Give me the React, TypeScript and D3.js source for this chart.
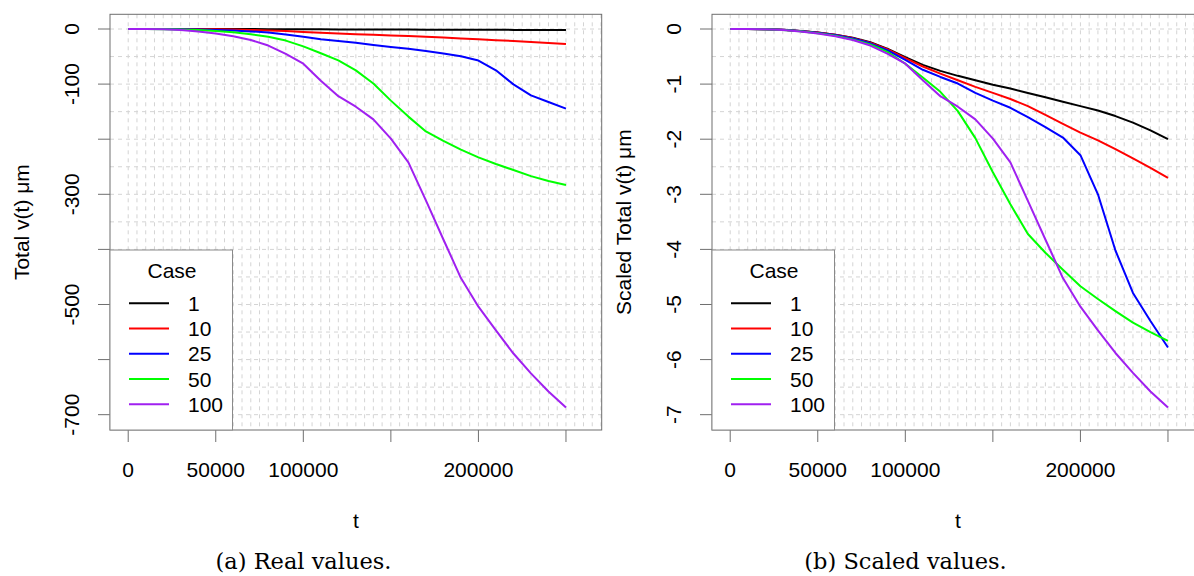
import React from 'react';
import * as d3 from 'd3';

const T = [0, 10000, 20000, 30000, 40000, 50000, 60000, 70000, 80000, 90000, 100000, 110000, 120000, 130000, 140000, 150000, 160000, 170000, 180000, 190000, 200000, 210000, 220000, 230000, 240000, 250000];
const CASES = ['1', '10', '25', '50', '100'];
const COLORS = ['#000000', '#FF0000', '#0000FF', '#00FF00', '#A020F0'];

// Real values (left panel)
const REAL_1 = [0, 0, -0.005, -0.015, -0.035, -0.065, -0.105, -0.16, -0.24, -0.36, -0.51, -0.65, -0.76, -0.85, -0.93, -1.01, -1.08, -1.16, -1.24, -1.32, -1.4, -1.48, -1.58, -1.7, -1.84, -2.0];
const REAL_10 = [0, 0, -0.05, -0.15, -0.35, -0.65, -1.05, -1.65, -2.5, -3.7, -5.3, -6.8, -8.1, -9.3, -10.5, -11.6, -12.7, -14, -15.6, -17.2, -18.8, -20.2, -21.8, -23.5, -25.2, -27];
const REAL_25 = [0, 0, -0.1, -0.4, -0.9, -1.8, -2.8, -4.3, -6.5, -9.8, -14, -18.5, -21.8, -24.8, -29, -32.5, -35.8, -40, -44.5, -49.3, -57.3, -75, -100.5, -120.5, -132.5, -144.5];
const REAL_50 = [0, 0, -0.25, -0.8, -2, -3.8, -6, -9.5, -14, -21, -31.5, -44, -57, -75, -99, -130, -159, -186, -203, -219, -233, -245, -256, -267, -276, -283];
const REAL_100 = [0, 0, -0.6, -1.8, -4.5, -8, -13, -20, -30, -45, -63, -94, -122, -141, -164, -199, -242, -311, -382, -452, -504, -547, -589, -625, -658, -687];

// Scaled values (right panel)
const SCALED_1 = [0, 0, -0.005, -0.015, -0.035, -0.065, -0.105, -0.16, -0.24, -0.36, -0.51, -0.65, -0.76, -0.85, -0.93, -1.01, -1.08, -1.16, -1.24, -1.32, -1.4, -1.48, -1.58, -1.7, -1.84, -2.0];
const SCALED_10 = [0, 0, -0.005, -0.015, -0.035, -0.065, -0.105, -0.165, -0.25, -0.37, -0.53, -0.68, -0.81, -0.93, -1.05, -1.16, -1.27, -1.4, -1.56, -1.72, -1.88, -2.02, -2.18, -2.35, -2.52, -2.7];
const SCALED_25 = [0, 0, -0.005, -0.015, -0.035, -0.07, -0.11, -0.17, -0.26, -0.39, -0.56, -0.74, -0.87, -0.99, -1.16, -1.3, -1.43, -1.6, -1.78, -1.97, -2.29, -3.0, -4.02, -4.79, -5.3, -5.78];
const SCALED_50 = [0, 0, -0.005, -0.016, -0.04, -0.075, -0.12, -0.19, -0.28, -0.42, -0.63, -0.88, -1.14, -1.49, -1.98, -2.6, -3.18, -3.72, -4.06, -4.37, -4.67, -4.9, -5.12, -5.33, -5.5, -5.66];
const SCALED_100 = [0, 0, -0.006, -0.018, -0.045, -0.08, -0.13, -0.2, -0.3, -0.45, -0.63, -0.93, -1.22, -1.41, -1.64, -1.99, -2.42, -3.12, -3.82, -4.52, -5.04, -5.47, -5.88, -6.24, -6.58, -6.87];

const X_TICKS = [0, 50000, 100000, 150000, 200000, 250000];
const X_TICK_LABELS = [0, 50000, 100000, 200000];
const REAL_Y_TICKS = [0, -100, -200, -300, -400, -500, -600, -700];
const REAL_Y_LABELS = [0, -100, -300, -500, -700];
const SCALED_Y_TICKS = [0, -1, -2, -3, -4, -5, -6, -7];
const SCALED_Y_LABELS = [0, -1, -2, -3, -4, -5, -6, -7];

const SANS = '"Liberation Sans", Arial, Helvetica, sans-serif';
const SERIF = '"DejaVu Serif", "Liberation Serif", serif';
const AXIS = '#6f6f6f';
const GRID = '#d4d4d4';

interface PanelProps {
  x0: number;
  series: number[][];
  yDomain: [number, number];
  yTicks: number[];
  yLabels: number[];
  gridStepY: number;
  yTitle: string;
  caption: string;
}

function Panel({ x0, series, yDomain, yTicks, yLabels, gridStepY, yTitle, caption }: PanelProps) {
  const top = 14.3;
  const bottom = 430;
  const width = 491.7;
  const x = d3.scaleLinear().domain([-10400, 270400]).range([x0, x0 + width]);
  const y = d3.scaleLinear().domain(yDomain).range([bottom, top]);
  const line = d3.line<number>().x((_, i) => x(T[i])).y((d) => y(d));

  const gridX = d3.range(0, 270400, 5000);
  const gridY = d3.range(0, yDomain[0], -gridStepY);

  const legX = x0;
  const legW = 122.5;
  const legTop = 250;
  const rowY = (i: number) => 303.3 + i * 25.25;

  return (
    <g>
      {gridX.map((g) => (
        <line key={'gx' + g} x1={x(g)} x2={x(g)} y1={top} y2={bottom} stroke={GRID} strokeWidth={1} strokeDasharray="4,4" />
      ))}
      {gridY.map((g) => (
        <line key={'gy' + g} x1={x0} x2={x0 + width} y1={y(g)} y2={y(g)} stroke={GRID} strokeWidth={1} strokeDasharray="4,4" />
      ))}
      {series.map((s, i) => (
        <path key={'s' + i} d={line(s) || ''} fill="none" stroke={COLORS[i]} strokeWidth={2} strokeLinejoin="round" />
      ))}
      <rect x={x0} y={top} width={width} height={bottom - top} fill="none" stroke={AXIS} strokeWidth={1} />
      {yTicks.map((t) => (
        <line key={'yt' + t} x1={x0 - 12} x2={x0} y1={y(t)} y2={y(t)} stroke={AXIS} strokeWidth={1} />
      ))}
      {yLabels.map((t) => (
        <text key={'yl' + t} transform={`translate(${x0 - 31},${y(t)}) rotate(-90)`} textAnchor="middle" fontFamily={SANS} fontSize={21} fill="#000">
          {String(t)}
        </text>
      ))}
      {X_TICKS.map((t) => (
        <line key={'xt' + t} x1={x(t)} x2={x(t)} y1={bottom} y2={bottom + 12} stroke={AXIS} strokeWidth={1} />
      ))}
      {X_TICK_LABELS.map((t) => (
        <text key={'xl' + t} x={x(t)} y={477} textAnchor="middle" fontFamily={SANS} fontSize={21} fill="#000">
          {String(t)}
        </text>
      ))}
      <text x={x0 + width / 2} y={528} textAnchor="middle" fontFamily={SANS} fontSize={21} fill="#000">t</text>
      <text transform={`translate(${x0 - 81},${(top + bottom) / 2}) rotate(-90)`} textAnchor="middle" fontFamily={SANS} fontSize={21} fill="#000">
        {yTitle}
      </text>
      <rect x={legX} y={legTop} width={legW} height={bottom - legTop} fill="#fff" stroke="#8a8a8a" strokeWidth={1} />
      <text x={legX + 62} y={277.5} textAnchor="middle" fontFamily={SANS} fontSize={21} fill="#000">Case</text>
      {CASES.map((c, i) => (
        <g key={'lg' + c}>
          <line x1={legX + 19} x2={legX + 59} y1={rowY(i)} y2={rowY(i)} stroke={COLORS[i]} strokeWidth={2} />
          <text x={legX + 78} y={rowY(i) + 7.5} fontFamily={SANS} fontSize={21} fill="#000">{c}</text>
        </g>
      ))}
      <text x={x0 + 193.5} y={569} textAnchor="middle" fontFamily={SERIF} fontSize={22.5} fill="#000">{caption}</text>
    </g>
  );
}

export default function App() {
  return (
    <svg width={1194} height={576} style={{ position: 'absolute', left: 0, top: 0, background: '#fff' }}>
      <rect x={0} y={0} width={1194} height={576} fill="#fff" />
      <Panel
        x0={110}
        series={[REAL_1, REAL_10, REAL_25, REAL_50, REAL_100]}
        yDomain={[-727.8, 26.7]}
        yTicks={REAL_Y_TICKS}
        yLabels={REAL_Y_LABELS}
        gridStepY={50}
        yTitle="Total v(t) μm"
        caption="(a) Real values."
      />
      <Panel
        x0={712}
        series={[SCALED_1, SCALED_10, SCALED_25, SCALED_50, SCALED_100]}
        yDomain={[-7.278, 0.267]}
        yTicks={SCALED_Y_TICKS}
        yLabels={SCALED_Y_LABELS}
        gridStepY={0.5}
        yTitle="Scaled Total v(t) μm"
        caption="(b) Scaled values."
      />
    </svg>
  );
}
